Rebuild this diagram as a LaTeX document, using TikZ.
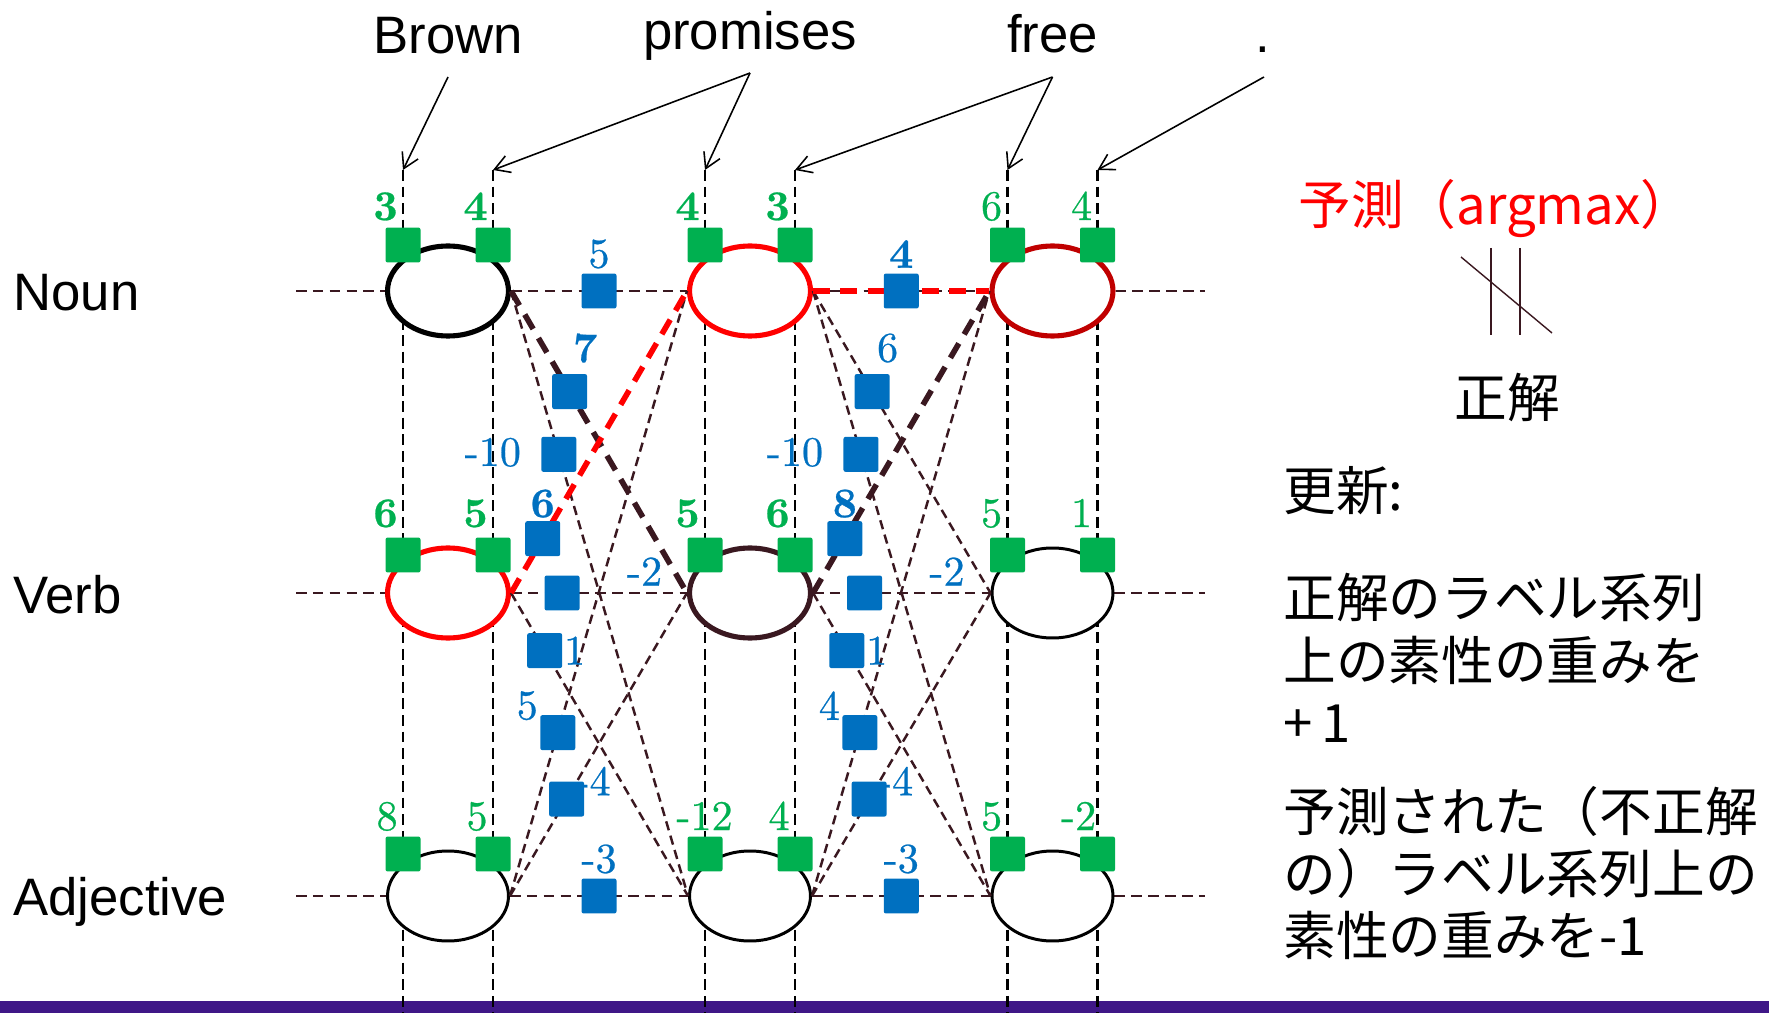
\documentclass[tikz,border=0pt]{standalone}
\usepackage{fontspec}
\newfontfamily\latinsans{Liberation Sans}
\newfontfamily\jpfont{Noto Sans CJK JP}
\newfontfamily\numfont[FakeBold=0.6,BoldFont=lmroman10-bold.otf]{lmroman10-regular.otf}
\usetikzlibrary{shapes.geometric,arrows.meta,backgrounds,calc}

\definecolor{wgreen}{HTML}{00B050}
\definecolor{wblue}{HTML}{0070C0}
\definecolor{pred}{HTML}{FF0000}
\definecolor{darkred}{HTML}{C00000}
\definecolor{maroon}{HTML}{3A1820}
\definecolor{barpurple}{HTML}{3F1787}

\begin{document}
\begin{tikzpicture}[x=0.02cm,y=-0.02cm,
  state/.style={ellipse,inner sep=0pt,minimum width=2.42cm,minimum height=1.8cm,
                fill=white,draw=black,line width=1.7pt},
  hot/.style={line width=2.9pt},
  featbox/.style={rectangle,rounded corners=1.2pt,minimum size=0.7cm,inner sep=0pt,fill=wgreen},
  wbox/.style={rectangle,rounded corners=1.2pt,minimum size=0.7cm,inner sep=0pt,fill=wblue},
  digits/.style={font=\numfont\fontsize{24}{28}\selectfont,inner sep=0pt},
  flbl/.style={digits,text=wgreen,anchor=base east},
  wlbl/.style={digits,text=wblue},
  gridline/.style={draw=black,line width=1.5pt,dash pattern=on 6.2pt off 3.2pt},
  rowline/.style={draw=maroon,line width=1.45pt,dash pattern=on 6pt off 3.6pt},
  link/.style={draw=maroon,line width=1.4pt,dash pattern=on 5.3pt off 3.2pt},
  trace/.style={line width=3.2pt,dash pattern=on 9.5pt off 6pt},
  word/.style={font=\latinsans\fontsize{30}{36}\selectfont,inner sep=0pt},
  jp/.style={font=\jpfont\fontsize{30}{36}\selectfont,inner sep=0pt},
  pointer/.style={draw=black,line width=0.9pt,-{Straight Barb[length=8.5pt,width=10pt]}}
]
\useasboundingbox (0,0) rectangle (1769,1013);

% ---- lattice states ----
\node[state,hot,draw=black]   (n1) at (448,291)    {};
\node[state,hot,draw=pred]    (n2) at (750,291)    {};
\node[state,hot,draw=darkred] (n3) at (1052.5,291) {};
\node[state,hot,draw=pred]    (v1) at (448,593)    {};
\node[state,hot,draw=maroon]  (v2) at (750,593)    {};
\node[state]                  (v3) at (1052.5,593) {};
\node[state]                  (a1) at (448,896)    {};
\node[state]                  (a2) at (750,896)    {};
\node[state]                  (a3) at (1052.5,896) {};

% ---- background: bottom bar, word columns, row lines ----
\begin{scope}[on background layer]
  \fill[barpurple] (0,1001) rectangle (1769,1013);
  \foreach \x/\n in {403/c1a,493/c1b,705/c2a,795/c2b,1007.5/c3a,1097.5/c3b}{
    \coordinate (top-\n) at (\x,170);
    \coordinate (bot-\n) at (\x,1013);
    \draw[gridline] (top-\n) -- (bot-\n);
  }
  \foreach \r/\y/\p in {n/291/.5,v/593/.29,a/896/.5}{
    \coordinate (\r L) at (296,\y);
    \coordinate (\r R) at (1205,\y);
    \draw[rowline] (\r L) -- (\r1.west);
    \draw[rowline] (\r1.east) -- coordinate[pos=\p] (w-\r\r1) (\r2.west);
    \draw[rowline] (\r2.east) -- coordinate[pos=\p] (w-\r\r2) (\r3.west);
    \draw[rowline] (\r3.east) -- (\r R);
  }
\end{scope}

% ---- transitions between states ----
\draw[link] (n1.east) -- coordinate[pos=.27]  (w-na1) (a2.west);
\draw[link] (v1.east) -- coordinate[pos=.19]  (w-va1) (a2.west);
\draw[link] (a1.east) -- coordinate[pos=.27]  (w-an1) (n2.west);
\draw[link] (a1.east) -- coordinate[pos=.32]  (w-av1) (v2.west);
\draw[link] (n2.east) -- coordinate[pos=.333] (w-nv2) (v3.west);
\draw[link] (n2.east) -- coordinate[pos=.27]  (w-na2) (a3.west);
\draw[link] (v2.east) -- coordinate[pos=.19]  (w-va2) (a3.west);
\draw[link] (a2.east) -- coordinate[pos=.27]  (w-an2) (n3.west);
\draw[link] (a2.east) -- coordinate[pos=.32]  (w-av2) (v3.west);
% gold path (dark) and predicted path (red)
\draw[trace,draw=maroon] (n1.east) -- coordinate[pos=.333] (w-nv1) (v2.west);
\draw[trace,draw=maroon] (v2.east) -- coordinate[pos=.18]  (w-vn2) (n3.west);
\draw[trace,draw=pred]   (v1.east) -- coordinate[pos=.18]  (w-vn1) (n2.west);
\draw[trace,draw=pred]   (n2.east) -- (n3.west);

% ---- transition weights ----
\foreach \c in {nn1,nv1,na1,vn1,vv1,va1,an1,av1,aa1,nn2,nv2,na2,vn2,vv2,va2,an2,av2,aa2}
  \node[wbox] (s-\c) at (w-\c) {};

\node[wlbl] (l-nn1) at ($(s-nn1)+(0,-37)$)       {5};
\node[wlbl] (l-nv1) at ($(s-nv1)+(15.5,-43.5)$)  {\bfseries 7};
\node[wlbl] (l-na1) at ($(s-na1)+(-66,-2)$)      {-10};
\node[wlbl] (l-vn1) at ($(s-vn1)+(0,-35)$)       {\bfseries 6};
\node[wlbl] (l-vv1) at ($(s-vv1)+(82.5,-21.5)$)  {-2};
\node[wlbl] (l-va1) at ($(s-va1)+(30,0)$)        {1};
\node[wlbl] (l-an1) at ($(s-an1)+(-30.5,-27)$)   {5};
\node[wlbl] (l-av1) at ($(s-av1)+(26.5,-18)$)    {-4};
\node[wlbl] (l-aa1) at ($(s-aa1)+(0,-37)$)       {-3};

\node[wlbl] (l-nn2) at ($(s-nn2)+(0,-37)$)       {\bfseries 4};
\node[wlbl] (l-nv2) at ($(s-nv2)+(15.5,-43.5)$)  {6};
\node[wlbl] (l-na2) at ($(s-na2)+(-66,-2)$)      {-10};
\node[wlbl] (l-vn2) at ($(s-vn2)+(0,-35)$)       {\bfseries 8};
\node[wlbl] (l-vv2) at ($(s-vv2)+(82.5,-21.5)$)  {-2};
\node[wlbl] (l-va2) at ($(s-va2)+(30,0)$)        {1};
\node[wlbl] (l-an2) at ($(s-an2)+(-30.5,-27)$)   {4};
\node[wlbl] (l-av2) at ($(s-av2)+(26.5,-18)$)    {-4};
\node[wlbl] (l-aa2) at ($(s-aa2)+(0,-37)$)       {-3};

% ---- emission features ----
\foreach \r/\y in {n/245,v/555,a/854}{
  \node[featbox] (f-\r1a) at (403,\y)    {};
  \node[featbox] (f-\r1b) at (493,\y)    {};
  \node[featbox] (f-\r2a) at (705,\y)    {};
  \node[featbox] (f-\r2b) at (795,\y)    {};
  \node[featbox] (f-\r3a) at (1007.5,\y) {};
  \node[featbox] (f-\r3b) at (1097.5,\y) {};
}
\node[flbl] (fl-n1a) at (398,220)    {\bfseries 3};
\node[flbl] (fl-n1b) at (488,220)    {\bfseries 4};
\node[flbl] (fl-n2a) at (700,220)    {\bfseries 4};
\node[flbl] (fl-n2b) at (790,220)    {\bfseries 3};
\node[flbl] (fl-n3a) at (1002.5,220) {6};
\node[flbl] (fl-n3b) at (1092.5,220) {4};

\node[flbl] (fl-v1a) at (398,527)    {\bfseries 6};
\node[flbl] (fl-v1b) at (488,527)    {\bfseries 5};
\node[flbl] (fl-v2a) at (700,527)    {\bfseries 5};
\node[flbl] (fl-v2b) at (790,527)    {\bfseries 6};
\node[flbl] (fl-v3a) at (1002.5,527) {5};
\node[flbl] (fl-v3b) at (1092.5,527) {1};

\node[flbl] (fl-a1a) at (398,830)    {8};
\node[flbl] (fl-a1b) at (488,830)    {5};
\node[flbl] (fl-a2a) at (733,830)    {-12};
\node[flbl] (fl-a2b) at (790,830)    {4};
\node[flbl] (fl-a3a) at (1002.5,830) {5};
\node[flbl] (fl-a3b) at (1096.5,830) {-2};

% ---- words and tags ----
\node[word,anchor=base] (w-brown)    at (448,54)    {Brown};
\node[word,anchor=base] (w-promises) at (750,50)    {promises};
\node[word,anchor=base] (w-free)     at (1052.5,53) {free};
\node[word,anchor=base] (w-stop)     at (1263,53)   {.};

\coordinate (ft-brown)    at (448,77);
\coordinate (ft-promises) at (750,73);
\coordinate (ft-free)     at (1052.5,77);
\coordinate (ft-stop)     at (1264,77);
\draw[pointer] (ft-brown)    -- (top-c1a);
\draw[pointer] (ft-promises) -- (top-c1b);
\draw[pointer] (ft-promises) -- (top-c2a);
\draw[pointer] (ft-free)     -- (top-c2b);
\draw[pointer] (ft-free)     -- (top-c3a);
\draw[pointer] (ft-stop)     -- (top-c3b);

\node[word,anchor=base west] (t-noun) at (13,311) {Noun};
\node[word,anchor=base west] (t-verb) at (13,613) {Verb};
\node[word,anchor=base west] (t-adj)  at (13,915) {Adjective};

% ---- update rule ----
\node[jp,text=pred,anchor=base west] (rule-pred) at (1298,225) {予測（argmax）};
\coordinate (neq-a1) at (1491,248);  \coordinate (neq-a2) at (1491,335);
\coordinate (neq-b1) at (1520,248);  \coordinate (neq-b2) at (1520,335);
\coordinate (neq-c1) at (1461,257);  \coordinate (neq-c2) at (1552,333);
\draw[maroon,line width=0.8pt] (neq-a1) -- (neq-a2);
\draw[maroon,line width=0.8pt] (neq-b1) -- (neq-b2);
\draw[maroon,line width=0.8pt] (neq-c1) -- (neq-c2);
\node[jp,anchor=base] (rule-gold) at (1507,418) {正解};

\node[jp,anchor=base west] (upd)   at (1283,511) {更新:};
\node[jp,anchor=base west] (upd-1) at (1283,617) {正解のラベル系列};
\node[jp,anchor=base west] (upd-2) at (1283,680) {上の素性の重みを};
\node[jp,anchor=base west] (upd-3) at (1283,742) {+\,1};
\node[jp,anchor=base west] (upd-4) at (1283,831) {予測された（不正解};
\node[jp,anchor=base west] (upd-5) at (1283,893) {の）ラベル系列上の};
\node[jp,anchor=base west] (upd-6) at (1283,955) {素性の重みを-1};
\end{tikzpicture}
\end{document}
